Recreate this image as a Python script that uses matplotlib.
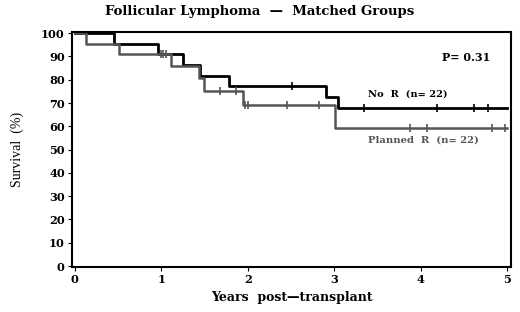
import matplotlib
matplotlib.use('Agg')
import matplotlib.pyplot as plt

# No R group: step times (years) and survival (%)
nor_t = [0, 0.455, 0.957, 1.25, 1.45, 1.78, 2.91, 3.04, 5.0]
nor_s = [100, 95.5, 90.9, 86.4, 81.8, 77.3, 72.7, 67.8, 67.8]
nor_cens_t = [2.51, 3.35, 4.19, 4.62, 4.78]

# Planned R group
pr_t = [0, 0.127, 0.513, 1.11, 1.44, 1.49, 1.95, 3.01, 5.0]
pr_s = [100, 95.5, 90.9, 85.7, 80.7, 75.1, 69.0, 59.1, 59.1]
pr_cens_t = [0.995, 1.02, 1.05, 1.68, 1.86, 1.97, 2.0, 2.45, 2.82, 3.88, 4.07, 4.82, 4.98]

def surv_at(t, times, surv):
    s = surv[0]
    for ti, si in zip(times, surv):
        if ti <= t:
            s = si
    return s

bold_serif = ['DejaVu Serif']
serif = ['Liberation Serif', 'DejaVu Serif']

fig = plt.figure(figsize=(5.2, 3.12), dpi=100)
ax = fig.add_axes([0.138, 0.144, 0.845, 0.753])

ax.step(nor_t, nor_s, where='post', color='black', lw=2.0)
ax.step(pr_t, pr_s, where='post', color='#555555', lw=1.8)
ax.plot(nor_cens_t, [surv_at(t, nor_t, nor_s) for t in nor_cens_t], ls='none',
        marker='|', ms=6, mew=1.2, color='black')
ax.plot(pr_cens_t, [surv_at(t, pr_t, pr_s) for t in pr_cens_t], ls='none',
        marker='|', ms=6, mew=1.2, color='#555555')

ax.set_xlim(-0.035, 5.046)
ax.set_ylim(-0.45, 100.45)
ax.set_xticks([0, 1, 2, 3, 4, 5])
ax.set_yticks(range(0, 101, 10))
ax.tick_params(direction='out', length=3, width=0.8, pad=2)
for lab in ax.get_xticklabels() + ax.get_yticklabels():
    lab.set_family(bold_serif)
    lab.set_fontweight('bold')
    lab.set_fontsize(8.2)
for sp in ax.spines.values():
    sp.set_linewidth(1.5)

ax.text(4.53, 89.7, 'P= 0.31', ha='center', va='center', family=bold_serif,
        fontweight='bold', fontsize=8)
ax.text(3.85, 73.8, 'No  R  (n= 22)', ha='center', va='center', family=bold_serif,
        fontweight='bold', fontsize=7.1, color='black')
ax.text(4.03, 54.2, 'Planned  R  (n= 22)', ha='center', va='center', family=bold_serif,
        fontweight='bold', fontsize=7.2, color='#555555')

fig.text(0.5, 0.962, 'Follicular Lymphoma  \u2014  Matched Groups', ha='center',
         va='center', family=bold_serif, fontweight='bold', fontsize=9.5)
ax.set_xlabel('Years  post\u2014transplant', family=bold_serif, fontweight='bold',
              fontsize=9, labelpad=4)
ax.set_ylabel('Survival  (%)', family=serif, fontsize=10, labelpad=12)

fig.savefig('out.png', dpi=100)
